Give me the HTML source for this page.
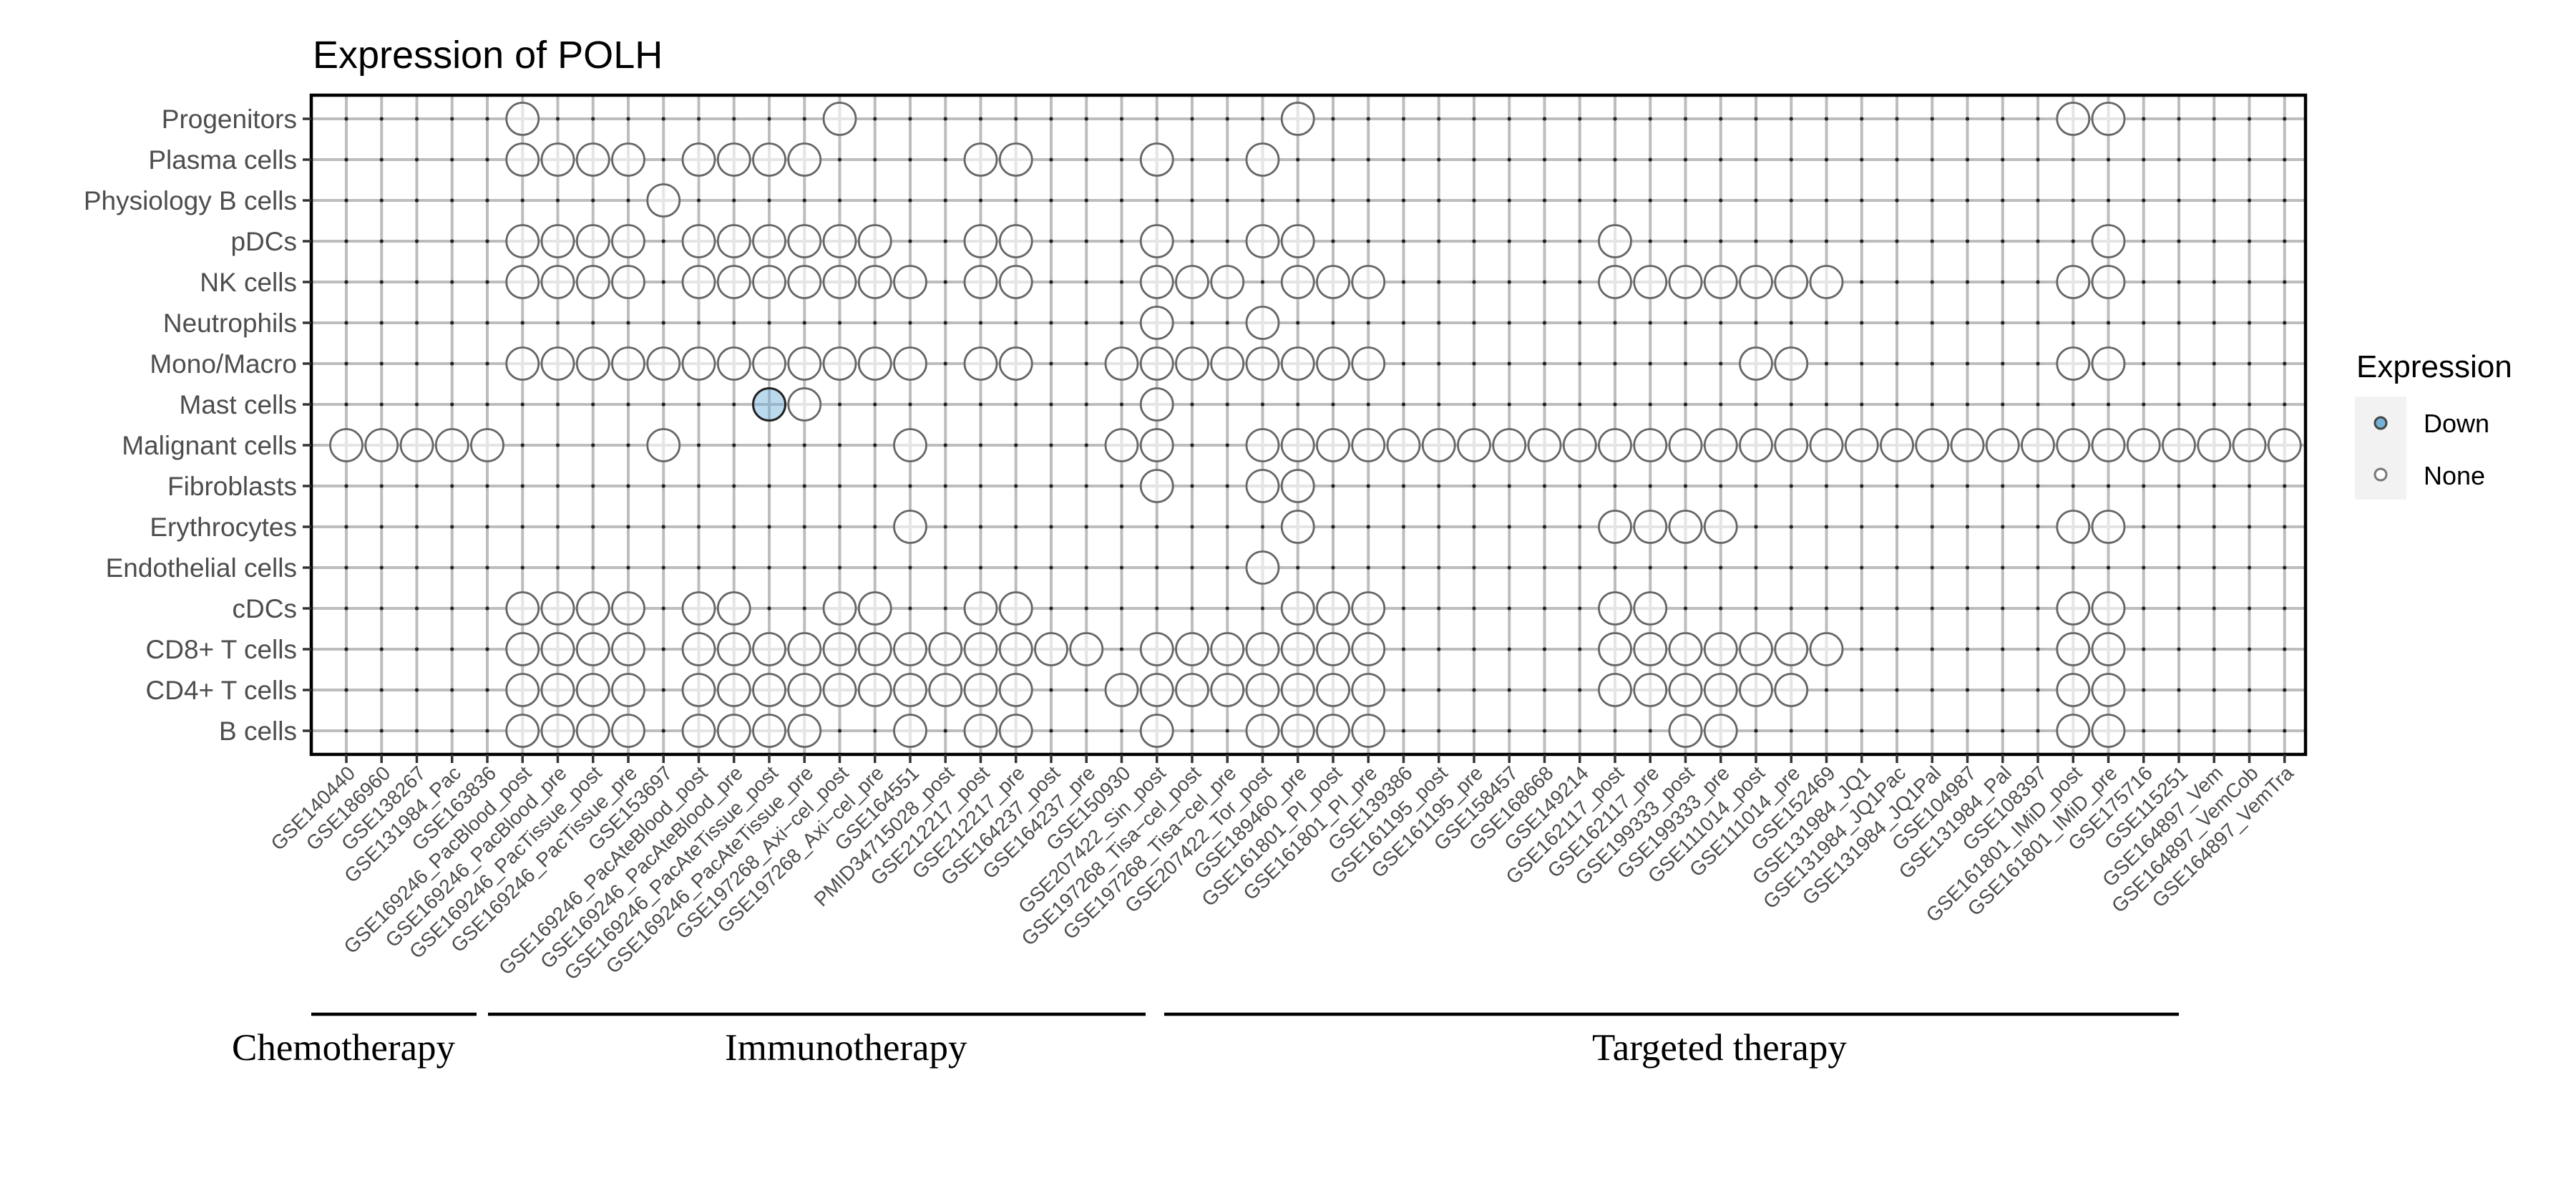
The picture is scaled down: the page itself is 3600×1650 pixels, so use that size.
<!DOCTYPE html>
<html><head><meta charset="utf-8">
<style>
html,body{margin:0;padding:0;background:#fff;}
svg{display:block;}
.yl{font-family:"Liberation Sans",sans-serif;font-size:37px;fill:#4d4d4d;text-anchor:end;}
.xl text{font-family:"Liberation Sans",sans-serif;font-size:28px;fill:#4d4d4d;text-anchor:end;}
.grp{font-family:"Liberation Serif",serif;font-size:53px;fill:#000;}
</style></head>
<body>
<svg id="s" width="3600" height="1650" viewBox="0 0 3600 1650" xmlns="http://www.w3.org/2000/svg">
<rect width="3600" height="1650" fill="#fff"/>
<text x="437" y="95" font-family="Liberation Sans, sans-serif" font-size="54" fill="#000">Expression of POLH</text>
<g id="grid"></g>
<g id="pts"></g>
<rect x="435" y="133" width="2787" height="921" fill="none" stroke="#000" stroke-width="4.5"/>
<g id="ticks"></g>
<g class="yl">
<text x="415" y="179">Progenitors</text>
<text x="415" y="236">Plasma cells</text>
<text x="415" y="293">Physiology B cells</text>
<text x="415" y="350">pDCs</text>
<text x="415" y="407">NK cells</text>
<text x="415" y="464">Neutrophils</text>
<text x="415" y="521">Mono/Macro</text>
<text x="415" y="578">Mast cells</text>
<text x="415" y="635">Malignant cells</text>
<text x="415" y="692">Fibroblasts</text>
<text x="415" y="749">Erythrocytes</text>
<text x="415" y="806">Endothelial cells</text>
<text x="415" y="863">cDCs</text>
<text x="415" y="920">CD8+ T cells</text>
<text x="415" y="977">CD4+ T cells</text>
<text x="415" y="1034">B cells</text>
</g>
<g class="xl" id="xl">
<text>GSE140440</text><text>GSE186960</text><text>GSE138267</text><text>GSE131984_Pac</text><text>GSE163836</text>
<text>GSE169246_PacBlood_post</text><text>GSE169246_PacBlood_pre</text><text>GSE169246_PacTissue_post</text><text>GSE169246_PacTissue_pre</text><text>GSE153697</text>
<text>GSE169246_PacAteBlood_post</text><text>GSE169246_PacAteBlood_pre</text><text>GSE169246_PacAteTissue_post</text><text>GSE169246_PacAteTissue_pre</text><text>GSE197268_Axi−cel_post</text>
<text>GSE197268_Axi−cel_pre</text><text>GSE164551</text><text>PMID34715028_post</text><text>GSE212217_post</text><text>GSE212217_pre</text>
<text>GSE164237_post</text><text>GSE164237_pre</text><text>GSE150930</text><text>GSE207422_Sin_post</text><text>GSE197268_Tisa−cel_post</text>
<text>GSE197268_Tisa−cel_pre</text><text>GSE207422_Tor_post</text><text>GSE189460_pre</text><text>GSE161801_PI_post</text><text>GSE161801_PI_pre</text>
<text>GSE139386</text><text>GSE161195_post</text><text>GSE161195_pre</text><text>GSE158457</text><text>GSE168668</text>
<text>GSE149214</text><text>GSE162117_post</text><text>GSE162117_pre</text><text>GSE199333_post</text><text>GSE199333_pre</text>
<text>GSE111014_post</text><text>GSE111014_pre</text><text>GSE152469</text><text>GSE131984_JQ1</text><text>GSE131984_JQ1Pac</text>
<text>GSE131984_JQ1Pal</text><text>GSE104987</text><text>GSE131984_Pal</text><text>GSE108397</text><text>GSE161801_IMiD_post</text>
<text>GSE161801_IMiD_pre</text><text>GSE175716</text><text>GSE115251</text><text>GSE164897_Vem</text><text>GSE164897_VemCob</text>
<text>GSE164897_VemTra</text>
</g>
<line x1="435" y1="1417" x2="666" y2="1417" stroke="#000" stroke-width="4.5"/>
<line x1="682" y1="1417" x2="1601" y2="1417" stroke="#000" stroke-width="4.5"/>
<line x1="1627" y1="1417" x2="3045" y2="1417" stroke="#000" stroke-width="4.5"/>
<text class="grp" x="324" y="1481">Chemotherapy</text>
<text class="grp" x="1013" y="1481">Immunotherapy</text>
<text class="grp" x="2225" y="1481">Targeted therapy</text>
<text x="3293" y="527" font-family="Liberation Sans, sans-serif" font-size="44" fill="#000">Expression</text>
<rect x="3291" y="554" width="72" height="144" fill="#f2f2f2"/>
<circle cx="3327" cy="591" r="8" fill="#74b3d8" stroke="#444" stroke-width="3"/>
<circle cx="3327" cy="663" r="8" fill="#fff" stroke="#777" stroke-width="3"/>
<text x="3387" y="604" font-family="Liberation Sans, sans-serif" font-size="36" fill="#000">Down</text>
<text x="3387" y="677" font-family="Liberation Sans, sans-serif" font-size="36" fill="#000">None</text>
</svg>
<script>
(function(){
var NS="http://www.w3.org/2000/svg";
function el(p,t,a){var e=document.createElementNS(NS,t);for(var k in a)e.setAttribute(k,a[k]);p.appendChild(e);return e;}
var X=function(i){return 484+i*49.25;}, Y=function(j){return 166+j*57.0;};
var grid=document.getElementById('grid'),pts=document.getElementById('pts'),ticks=document.getElementById('ticks');
for(var j=0;j<16;j++){el(grid,'line',{x1:435,x2:3222,y1:Y(j),y2:Y(j),stroke:'#bdbdbd','stroke-width':4});
 el(ticks,'line',{x1:423,x2:435,y1:Y(j),y2:Y(j),stroke:'#333','stroke-width':3.5});}
for(var i=0;i<56;i++){el(grid,'line',{x1:X(i),x2:X(i),y1:133,y2:1054,stroke:'#bdbdbd','stroke-width':4});
 el(ticks,'line',{x1:X(i),x2:X(i),y1:1054,y2:1066,stroke:'#333','stroke-width':3.5});}
var rows=["5,14,27,49,50","5-8,10-13,18,19,23,26","9","5-8,10-15,18,19,23,26,27,36,50",
"5-8,10-16,18,19,23-25,27-29,36-42,49,50","23,26","5-16,18,19,22-29,40,41,49,50","12,13,23",
"0-4,9,16,22,23,26-55","23,26,27","16,27,36-39,49,50","26","5-8,10,11,14,15,18,19,27-29,36,37,49,50",
"5-8,10-21,23-29,36-42,49,50","5-8,10-19,22-29,36-41,49,50","5-8,10-13,16,18,19,23,26-29,38,39,49,50"];
for(var j=0;j<16;j++){var set={};rows[j].split(',').forEach(function(s){var p=s.split('-');var a=+p[0],b=p.length>1?+p[1]:a;for(var k=a;k<=b;k++)set[k]=1;});
 for(var i=0;i<56;i++){
  if(set[i]){
   if(j==7&&i==12) el(pts,'circle',{cx:X(i),cy:Y(j),r:22.5,fill:'rgba(107,174,214,0.45)',stroke:'#222','stroke-width':3});
   else el(pts,'circle',{cx:X(i),cy:Y(j),r:22.5,fill:'rgba(255,255,255,0.6)',stroke:'#666','stroke-width':2.8});
  } else el(pts,'circle',{cx:X(i),cy:Y(j),r:2.6,fill:'#222'});
 }}
var ts=document.getElementById('xl').getElementsByTagName('text');
for(var i=0;i<ts.length;i++){ts[i].setAttribute('transform','translate('+(X(i)+14)+',1082) rotate(-45)');}
})();
</script>
</body></html>
